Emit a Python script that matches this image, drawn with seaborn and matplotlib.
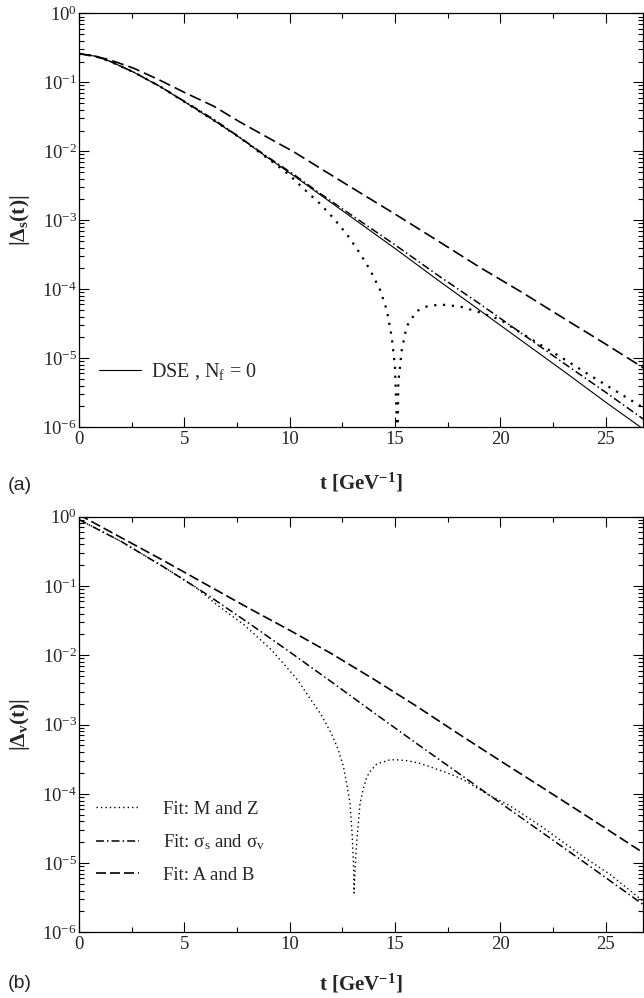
import numpy as np
import matplotlib
matplotlib.use("Agg")
import matplotlib.pyplot as plt
import seaborn as sns
from matplotlib.ticker import LogLocator, NullFormatter, MultipleLocator, LogFormatterMathtext

# ---------------------------------------------------------
# Data (t in GeV^-1)
# ---------------------------------------------------------

# panel (a): |Delta_s(t)|
t_dse = [0, 0.75, 1.5, 2.6, 3.85, 5.1, 6.4, 7.6, 8.9, 10.2, 11.4, 13, 15, 17, 19, 21, 23, 25, 26.8]
s_dse = [2.6e-1, 2.4e-1, 2.0e-1, 1.4e-1, 8.7e-2, 5.0e-2, 2.8e-2, 1.6e-2, 8.3e-3, 4.4e-3,
         2.4e-3, 1.07e-3, 3.9e-4, 1.38e-4, 5.0e-5, 1.8e-5, 6.5e-6, 2.3e-6, 9.3e-7]

t_s_mz = [0, 0.75, 1.5, 2.6, 3.85, 5.1, 6.4, 7.6, 8.9, 9.4, 10.0, 10.5, 11.0, 11.44, 12.08, 12.71,
          13.34, 13.82, 14.29, 14.61, 14.85, 15.0, 15.08, 15.12, 15.16, 15.32, 15.56, 16.03,
          16.51, 17.14, 18.09, 19.04, 20.0, 21, 22, 23, 24, 25, 26.8]
s_mz = [2.6e-1, 2.4e-1, 2.0e-1, 1.4e-1, 8.7e-2, 5.0e-2, 2.8e-2, 1.6e-2, 8.1e-3, 6.3e-3, 4.5e-3,
        3.2e-3, 2.3e-3, 1.74e-3, 1.07e-3, 6.3e-4, 3.3e-4, 1.9e-4, 9.8e-5, 5.0e-5, 2.0e-5,
        7.6e-6, 1.4e-6, 5.0e-7, 4.4e-6, 1.3e-5, 2.9e-5, 4.8e-5, 5.6e-5, 6.0e-5, 5.6e-5,
        4.6e-5, 3.6e-5, 2.3e-5, 1.5e-5, 9.8e-6, 6.3e-6, 4.1e-6, 1.9e-6]

t_s_sig = [0, 0.75, 1.5, 2.6, 3.85, 5.1, 6.4, 7.6, 8.9, 10.2, 11.4, 13, 15, 17, 19, 21, 23, 25, 26.8]
s_sig = [2.6e-1, 2.4e-1, 2.0e-1, 1.4e-1, 8.7e-2, 5.1e-2, 2.9e-2, 1.62e-2, 8.5e-3, 4.6e-3,
         2.5e-3, 1.15e-3, 4.4e-4, 1.62e-4, 6.2e-5, 2.3e-5, 8.5e-6, 3.2e-6, 1.3e-6]

t_s_ab = [0, 0.75, 1.5, 2.6, 3.85, 5.1, 6.4, 7.6, 8.9, 10.2, 11.4, 13, 15, 17, 19, 21, 23, 25, 26.8]
s_ab = [2.6e-1, 2.4e-1, 2.1e-1, 1.6e-1, 1.07e-1, 6.9e-2, 4.5e-2, 2.7e-2, 1.62e-2, 9.8e-3,
        5.8e-3, 2.9e-3, 1.23e-3, 5.1e-4, 2.1e-4, 9.1e-5, 3.8e-5, 1.6e-5, 7.2e-6]

# panel (b): |Delta_v(t)|
t_v_mz = [0, 2, 4, 5.5, 6.6, 7.87, 9.13, 10.0, 10.4, 11.0, 11.5, 12.0, 12.3, 12.55, 12.71, 12.87,
          12.97, 13.03, 13.06, 13.12, 13.19, 13.34, 13.5, 13.66, 13.82, 14.14, 14.77, 15.08, 15.6,
          16.19, 16.67, 17.5, 18.25, 19.35, 20.5, 22, 24, 25.2, 26.8]
v_mz = [9.1e-1, 4.4e-1, 1.9e-1, 9.8e-2, 5.2e-2, 2.7e-2, 1.2e-2, 6.0e-3, 4.3e-3, 2.3e-3,
        1.38e-3, 7.2e-4, 4.4e-4, 2.5e-4, 1.4e-4, 7.1e-5, 2.5e-5, 1.0e-5, 3.7e-6, 1.0e-5,
        2.1e-5, 7.1e-5, 1.2e-4, 1.74e-4, 2.1e-4, 2.7e-4, 3.1e-4, 3.1e-4, 3.0e-4, 2.75e-4,
        2.45e-4, 2.0e-4, 1.6e-4, 1.0e-4, 6.6e-5, 3.3e-5, 1.2e-5, 6.9e-6, 2.8e-6]

t_v_sig = [0, 2, 4, 6, 8, 10, 12, 14, 16, 18, 20, 22, 24, 26.8]
v_sig = [9.1e-1, 4.4e-1, 1.9e-1, 7.8e-2, 3.0e-2, 1.12e-2, 4.1e-3, 1.48e-3, 5.4e-4, 2.0e-4,
         7.4e-5, 2.75e-5, 1.02e-5, 2.5e-6]

t_v_ab = [0, 2, 4, 6, 8, 10, 12, 14, 16, 18, 20, 22, 24, 26.8]
v_ab = [1.07, 5.0e-1, 2.34e-1, 1.07e-1, 4.9e-2, 2.3e-2, 1.05e-2, 4.5e-3, 1.86e-3, 7.4e-4,
        3.0e-4, 1.23e-4, 5.0e-5, 1.4e-5]

y_ticks = [1e-6, 1e-5, 1e-4, 1e-3, 1e-2, 1e-1, 1]
x_ticks = [0, 5, 10, 15, 20, 25]

# ---------------------------------------------------------
# Style
# ---------------------------------------------------------
sns.set_theme(style="ticks")
plt.rcParams['font.family'] = ['Liberation Serif', 'DejaVu Serif']
plt.rcParams['mathtext.fontset'] = 'stix'
plt.rcParams['mathtext.default'] = 'regular'

fig = plt.figure(figsize=(6.44, 9.98), dpi=100)
ax1 = fig.add_axes([0.1227, 0.5721, 0.8765, 0.4145])
ax2 = fig.add_axes([0.1227, 0.0658, 0.8765, 0.4164])

# ---------------------------------------------------------
# Panel (a)
# ---------------------------------------------------------
sns.lineplot(x=t_s_ab, y=s_ab, ax=ax1, color='black', lw=1.2, linestyle=(0, (7.2, 3)),
             sort=False, estimator=None)
sns.lineplot(x=t_s_sig, y=s_sig, ax=ax1, color='black', lw=1.1, linestyle=(0, (5.2, 2, 1, 2)),
             sort=False, estimator=None)
sns.lineplot(x=t_s_mz, y=s_mz, ax=ax1, color='black', lw=1.6, linestyle=(0, (1, 3)),
             sort=False, estimator=None)
sns.lineplot(x=t_dse, y=s_dse, ax=ax1, color='black', lw=0.8, label='DSE , N$_f$ = 0',
             sort=False, estimator=None)

# ---------------------------------------------------------
# Panel (b)
# ---------------------------------------------------------
sns.lineplot(x=t_v_mz, y=v_mz, ax=ax2, color='black', lw=1.0, linestyle=(0, (1, 2.2)),
             label='Fit: M and Z', sort=False, estimator=None)
sns.lineplot(x=t_v_sig, y=v_sig, ax=ax2, color='black', lw=1.1, linestyle=(0, (5.2, 2, 1, 2)),
             label=r'Fit: $\sigma_s$ and $\sigma_v$', sort=False, estimator=None)
sns.lineplot(x=t_v_ab, y=v_ab, ax=ax2, color='black', lw=1.2, linestyle=(0, (6, 2.4)),
             label='Fit: A and B', sort=False, estimator=None)

for ax in (ax1, ax2):
    ax.set_yscale('log')
    ax.set_ylim(1e-6, 1)
    ax.set_xlim(0, 26.8)
    ax.set_yticks(y_ticks)
    ax.yaxis.set_major_formatter(LogFormatterMathtext())
    ax.yaxis.set_minor_locator(LogLocator(base=10, subs=np.arange(2, 10)))
    ax.yaxis.set_minor_formatter(NullFormatter())
    ax.set_xticks(x_ticks)
    ax.xaxis.set_minor_locator(MultipleLocator(2.5))
    ax.tick_params(which='both', direction='in', top=True, right=True, color='black', width=0.8)
    ax.tick_params(which='major', length=7)
    ax.tick_params(which='minor', length=3.5)
    ax.tick_params(axis='x', labelsize=13.5, pad=3)
    ax.tick_params(axis='y', labelsize=13.5, pad=1.5)
    for sp in ax.spines.values():
        sp.set_color('black')
        sp.set_linewidth(0.9)

ax1.set_xlabel('t [GeV$^{-1}$]', fontsize=15, fontweight='bold', va='top')
ax1.xaxis.set_label_coords(0.5, -0.106)
ax1.set_ylabel('|Δ$_s$(t)|', fontsize=15.5, fontweight='bold')
ax1.yaxis.set_label_coords(-0.083, 0.5)

ax2.set_xlabel('t [GeV$^{-1}$]', fontsize=15, fontweight='bold', va='top')
ax2.xaxis.set_label_coords(0.5, -0.095)
ax2.set_ylabel('|Δ$_v$(t)|', fontsize=15.5, fontweight='bold')
ax2.yaxis.set_label_coords(-0.083, 0.5)

ax1.legend(loc='center left', bbox_to_anchor=(0.035, 0.133), frameon=False, fontsize=14.5,
           handlelength=2.1, handletextpad=0.5, borderpad=0, borderaxespad=0)
ax2.legend(loc='center left', bbox_to_anchor=(0.03, 0.217), frameon=False, fontsize=13.5,
           handlelength=2.3, handletextpad=1.3, labelspacing=0.78, borderpad=0, borderaxespad=0)

fig.text(8 / 644, 1 - 485 / 998, '(a)', family='Liberation Sans', fontsize=14, va='center', ha='left')
fig.text(8 / 644, 1 - 983 / 998, '(b)', family='Liberation Sans', fontsize=14, va='center', ha='left')

fig.savefig('out.png', dpi=100)
